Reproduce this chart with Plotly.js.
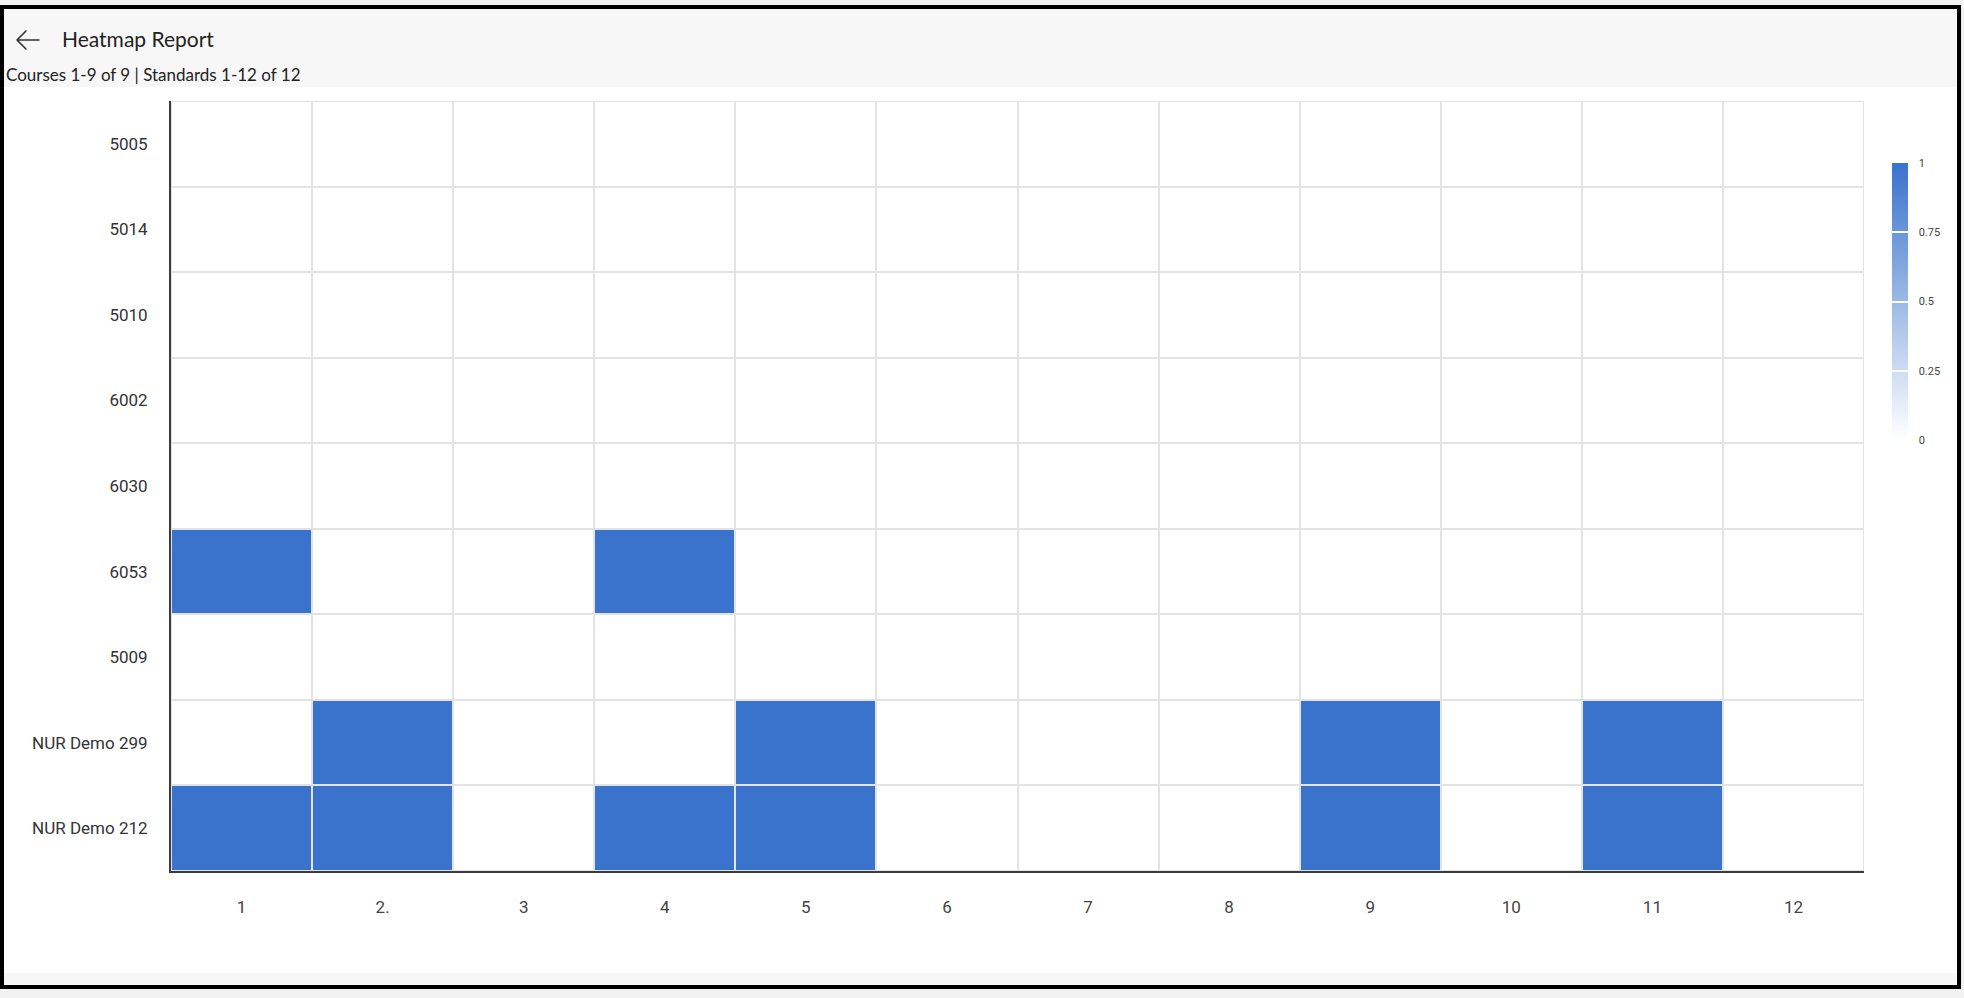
<!DOCTYPE html>
<html>
<head>
<meta charset="utf-8">
<script src="https://cdn.plot.ly/plotly-3.0.1.min.js"></script>
<style>
  html, body { margin:0; padding:0; width:1964px; height:998px; overflow:hidden; background:#f2f2f2; }
  #frame { position:absolute; left:0; top:5px; width:1953px; height:976px; border:4px solid #000; box-sizing:content-box; background:#ffffff; }
  #head { position:absolute; left:0; top:0; width:100%; height:78px; background:#f7f7f7; }
  #foot { position:absolute; left:0; bottom:0; width:100%; height:12px; background:#f7f7f7; }
  #title { position:absolute; left:62px; top:26px; font-family:Lato, "Noto Sans", sans-serif; font-size:21px; line-height:1.2; color:#222; white-space:nowrap; }
  #subtitle { position:absolute; left:6px; top:65px; font-family:Lato, "Noto Sans", sans-serif; font-size:17px; line-height:1.2; color:#222; white-space:nowrap; }
  #back { position:absolute; left:15px; top:29px; }
  #chart { position:absolute; left:0; top:0; width:1964px; height:998px; }
</style>
</head>
<body>
<div id="frame"><div id="head"></div><div id="foot"></div></div>
<svg id="back" width="26" height="22" viewBox="0 0 26 22"><path d="M2 11 H24 M11 2 L2 11 L11 20" fill="none" stroke="#333" stroke-width="1.6" stroke-linecap="round" stroke-linejoin="round"/></svg>
<div id="title">Heatmap Report</div>
<div id="subtitle">Courses 1-9 of 9 | Standards 1-12 of 12</div>
<div id="chart"></div>
<script>
// Categories
const standards = ["1", "2.", "3", "4", "5", "6", "7", "8", "9", "10", "11", "12"];
const courses = ["5005", "5014", "5010", "6002", "6030", "6053", "5009", "NUR Demo 299", "NUR Demo 212"];

// Values per course (top to bottom), one entry per standard
const c5005   = [0,0,0,0,0,0,0,0,0,0,0,0];
const c5014   = [0,0,0,0,0,0,0,0,0,0,0,0];
const c5010   = [0,0,0,0,0,0,0,0,0,0,0,0];
const c6002   = [0,0,0,0,0,0,0,0,0,0,0,0];
const c6030   = [0,0,0,0,0,0,0,0,0,0,0,0];
const c6053   = [1,0,0,1,0,0,0,0,0,0,0,0];
const c5009   = [0,0,0,0,0,0,0,0,0,0,0,0];
const cNUR299 = [0,1,0,0,1,0,0,0,1,0,1,0];
const cNUR212 = [1,1,0,1,1,0,0,0,1,0,1,0];

// Colorbar ticks
const cbTickVals = [0, 0.25, 0.5, 0.75, 1];
const cbTickText = ["0", "0.25", "0.5", "0.75", "1"];

const z = [c5005, c5014, c5010, c6002, c6030, c6053, c5009, cNUR299, cNUR212];

const plotL = 171, plotR = 1864, plotT = 101, plotB = 871;
const W = 1964, H = 998;
const pw = plotR - plotL, ph = plotB - plotT;

const cbBase = {
  thickness: 16, thicknessmode: 'pixels',
  len: 277, lenmode: 'pixels',
  x: (1892 - plotL) / pw, xanchor: 'left', xpad: 0,
  y: (plotB - 301.5) / ph, yanchor: 'middle', ypad: 0,
  outlinewidth: 0,
  tickmode: 'array', tickvals: cbTickVals, ticktext: cbTickText
};

// Main heatmap with the gradient bar and white separators inside it
const trace = {
  type: 'heatmap',
  x: standards, y: courses, z: z,
  zmin: 0, zmax: 1,
  colorscale: [[0, '#ffffff'], [1, '#3973cc']],
  xgap: 2, ygap: 2,
  hoverinfo: 'skip',
  colorbar: Object.assign({}, cbBase, {
    ticks: 'inside', ticklen: 16, tickwidth: 2, tickcolor: '#ffffff',
    showticklabels: false
  })
};

// Transparent overlay carrying only the colorbar labels, spaced off the bar
const labels = {
  type: 'heatmap',
  x: standards, y: courses, z: z,
  zmin: 0, zmax: 1,
  colorscale: [[0, 'rgba(255,255,255,0)'], [1, 'rgba(255,255,255,0)']],
  xgap: 2, ygap: 2,
  hoverinfo: 'skip',
  colorbar: Object.assign({}, cbBase, {
    ticks: 'outside', ticklen: 9, tickwidth: 1, tickcolor: 'rgba(0,0,0,0)',
    tickfont: { family: 'Roboto, sans-serif', size: 11, color: '#444' }
  })
};

const layout = {
  width: W, height: H,
  margin: { l: plotL, r: W - plotR, t: plotT, b: H - plotB, pad: 0 },
  paper_bgcolor: 'rgba(0,0,0,0)',
  plot_bgcolor: '#e3e3e3',
  showlegend: false,
  xaxis: {
    type: 'category',
    showgrid: false, zeroline: false,
    showline: true, linecolor: '#3c3c3c', linewidth: 2,
    ticks: '', ticklabelstandoff: 20,
    tickfont: { family: 'Roboto, sans-serif', size: 17, color: '#444' },
    fixedrange: true
  },
  yaxis: {
    type: 'category',
    autorange: 'reversed',
    showgrid: false, zeroline: false,
    showline: true, linecolor: '#3c3c3c', linewidth: 2,
    ticks: '', ticklabelstandoff: 18,
    tickfont: { family: 'Roboto, sans-serif', size: 17, color: '#333' },
    fixedrange: true
  }
};

Plotly.newPlot('chart', [trace, labels], layout, { displayModeBar: false, staticPlot: true });
</script>
</body>
</html>
